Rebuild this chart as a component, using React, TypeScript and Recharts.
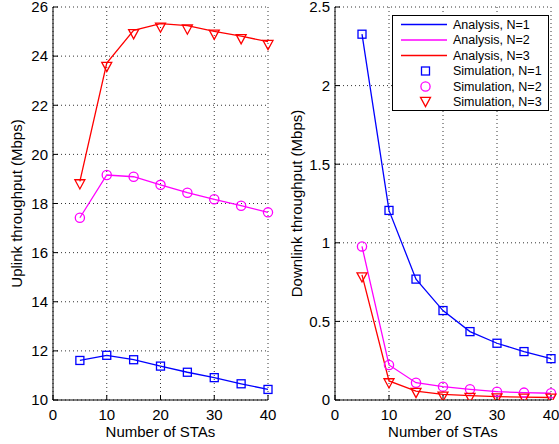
import React from "react";
import { LineChart, Line, XAxis, YAxis, CartesianGrid, Legend, Label } from "recharts";

const stas = [5, 10, 15, 20, 25, 30, 35, 40];
const xTicks = [0, 10, 20, 30, 40];
const upTicks = [10, 12, 14, 16, 18, 20, 22, 24, 26];
const downTicks = [0, 0.5, 1, 1.5, 2, 2.5];

// Uplink (left)
const upAnaN1 = [11.61, 11.82, 11.64, 11.38, 11.13, 10.91, 10.66, 10.43];
const upSimN1 = [11.61, 11.82, 11.64, 11.38, 11.13, 10.91, 10.66, 10.43];
const upAnaN2 = [17.42, 19.16, 19.09, 18.76, 18.44, 18.17, 17.91, 17.64];
const upSimN2 = [17.42, 19.16, 19.09, 18.76, 18.44, 18.17, 17.91, 17.64];
const upAnaN3 = [18.9, 23.72, 25.05, 25.32, 25.24, 25.01, 24.81, 24.59];
const upSimN3 = [18.78, 23.56, 24.89, 25.16, 25.08, 24.87, 24.69, 24.45];

// Downlink (right)
const dnAnaN1 = [2.327, 1.206, 0.769, 0.569, 0.435, 0.361, 0.308, 0.263];
const dnSimN1 = [2.327, 1.206, 0.769, 0.569, 0.435, 0.361, 0.308, 0.263];
const dnAnaN2 = [0.977, 0.223, 0.11, 0.085, 0.068, 0.053, 0.047, 0.043];
const dnSimN2 = [0.977, 0.223, 0.11, 0.085, 0.068, 0.053, 0.047, 0.043];
const dnAnaN3 = [0.796, 0.121, 0.057, 0.036, 0.028, 0.022, 0.018, 0.016];
const dnSimN3 = [0.78, 0.106, 0.045, 0.021, 0.013, 0.01, 0.008, 0.008];

const legendLabels = [
  "Analysis, N=1",
  "Analysis, N=2",
  "Analysis, N=3",
  "Simulation, N=1",
  "Simulation, N=2",
  "Simulation, N=3",
];

const BLUE = "#0000ff";
const MAGENTA = "#ff00ff";
const RED = "#ff0000";
const FONT = "'Liberation Sans', Arial, Helvetica, sans-serif";

const rows = stas.map((s, i) => ({
  x: s,
  upA1: upAnaN1[i], upS1: upSimN1[i],
  upA2: upAnaN2[i], upS2: upSimN2[i],
  upA3: upAnaN3[i], upS3: upSimN3[i],
  dnA1: dnAnaN1[i], dnS1: dnSimN1[i],
  dnA2: dnAnaN2[i], dnS2: dnSimN2[i],
  dnA3: dnAnaN3[i], dnS3: dnSimN3[i],
}));

const SquareMark = ({ cx, cy, color }: any) => (
  <rect x={cx - 4} y={cy - 4} width={8} height={8} fill="none" stroke={color} strokeWidth={1.3} />
);
const CircleMark = ({ cx, cy, color }: any) => (
  <circle cx={cx} cy={cy} r={4.6} fill="none" stroke={color} strokeWidth={1.3} />
);
const TriMark = ({ cx, cy, color }: any) => (
  <polygon
    points={`${cx - 5},${cy - 4.6} ${cx + 5},${cy - 4.6} ${cx},${cy + 4.6}`}
    fill="none"
    stroke={color}
    strokeWidth={1.3}
  />
);

const dotFn = (Shape: any, color: string) => (p: any) => {
  if (p.cx == null || p.cy == null) return <g key={p.index} />;
  return <Shape key={p.index} cx={p.cx} cy={p.cy} color={color} />;
};

const YTitle = (text: string) => (p: any) => {
  const vb = p.viewBox || {};
  const cy = vb.y + vb.height / 2;
  const cx = 16;
  return (
    <text
      x={cx}
      y={cy}
      transform={`rotate(-90 ${cx} ${cy})`}
      textAnchor="middle"
      dominantBaseline="central"
      fontSize={15}
      fontFamily={FONT}
      fill="#000"
    >
      {text}
    </text>
  );
};

const XTitle = (text: string) => (p: any) => {
  const vb = p.viewBox || {};
  const cx = vb.x + vb.width / 2;
  return (
    <text x={cx} y={437} textAnchor="middle" fontSize={15} fontFamily={FONT} fill="#000">
      {text}
    </text>
  );
};

const LegendBox = () => {
  const colors = [BLUE, MAGENTA, RED];
  const shapes = [SquareMark, CircleMark, TriMark];
  return (
    <svg width={157} height={96} style={{ display: "block" }}>
      <rect x={0.5} y={0.5} width={156} height={95} fill="#fff" stroke="#000" strokeWidth={1} />
      {legendLabels.map((lab, i) => {
        const y = 9.5 + i * 15.5;
        const c = colors[i % 3];
        const S = shapes[i % 3];
        return (
          <g key={lab}>
            {i < 3 ? (
              <line x1={9} x2={55} y1={y} y2={y} stroke={c} strokeWidth={1.4} />
            ) : (
              <S cx={33.5} cy={y} color={c} />
            )}
            <text x={61} y={y} dominantBaseline="central" fontSize={12.5} fontFamily={FONT} fill="#000">
              {lab}
            </text>
          </g>
        );
      })}
    </svg>
  );
};

const axisCommon = {
  stroke: "#000",
  tickSize: -5,
  tick: { fill: "#000", fontSize: 15, fontFamily: FONT },
  tickLine: { stroke: "#000" },
  axisLine: { stroke: "#000" },
};

function Panel({
  prefix,
  yDomain,
  yTicks,
  yTitle,
  marginLeft,
  marginRight,
  width,
  withLegend,
}: any) {
  return (
    <LineChart
      width={width}
      height={444}
      data={rows}
      margin={{ top: 7, right: marginRight, left: marginLeft, bottom: 0 }}
    >
      <CartesianGrid stroke="#000" strokeDasharray="1 3" strokeWidth={0.8} />
      <XAxis
        dataKey="x"
        type="number"
        domain={[0, 40]}
        ticks={xTicks}
        height={44}
        tickMargin={14}
        interval={0}
        {...axisCommon}
      >
        <Label content={XTitle("Number of STAs")} />
      </XAxis>
      <XAxis
        xAxisId="top"
        orientation="top"
        type="number"
        domain={[0, 40]}
        ticks={xTicks}
        height={0}
        tick={false}
        tickSize={-5}
        stroke="#000"
        tickLine={{ stroke: "#000" }}
        axisLine={{ stroke: "#000" }}
      />
      <YAxis
        type="number"
        domain={yDomain}
        ticks={yTicks}
        width={45}
        tickMargin={10}
        interval={0}
        allowDataOverflow
        {...axisCommon}
      >
        <Label content={YTitle(yTitle)} />
      </YAxis>
      <YAxis
        yAxisId="right"
        orientation="right"
        type="number"
        domain={yDomain}
        ticks={yTicks}
        width={0}
        tick={false}
        tickSize={-5}
        stroke="#000"
        tickLine={{ stroke: "#000" }}
        axisLine={{ stroke: "#000" }}
      />
      <Line dataKey={`${prefix}A1`} stroke={BLUE} strokeWidth={1.3} dot={false} isAnimationActive={false} />
      <Line dataKey={`${prefix}A2`} stroke={MAGENTA} strokeWidth={1.3} dot={false} isAnimationActive={false} />
      <Line dataKey={`${prefix}A3`} stroke={RED} strokeWidth={1.3} dot={false} isAnimationActive={false} />
      <Line dataKey={`${prefix}S1`} stroke="none" dot={dotFn(SquareMark, BLUE)} isAnimationActive={false} />
      <Line dataKey={`${prefix}S2`} stroke="none" dot={dotFn(CircleMark, MAGENTA)} isAnimationActive={false} />
      <Line dataKey={`${prefix}S3`} stroke="none" dot={dotFn(TriMark, RED)} isAnimationActive={false} />
      {withLegend && (
        <Legend
          layout="horizontal"
          align="center"
          verticalAlign="middle"
          content={() => <LegendBox />}
          wrapperStyle={{ left: 112, top: 15, width: 157, height: 96 }}
        />
      )}
    </LineChart>
  );
}

export default function App() {
  return (
    <div style={{ position: "absolute", left: 0, top: 0, width: 559, height: 444, background: "#fff" }}>
      <div style={{ position: "absolute", left: 0, top: 0 }}>
        <Panel
          prefix="up"
          yDomain={[10, 26]}
          yTicks={upTicks}
          yTitle="Uplink throughput (Mbps)"
          marginLeft={8}
          marginRight={12}
          width={280}
          withLegend={false}
        />
      </div>
      <div style={{ position: "absolute", left: 280, top: 0 }}>
        <Panel
          prefix="dn"
          yDomain={[0, 2.5]}
          yTicks={downTicks}
          yTitle="Downlink throughput (Mbps)"
          marginLeft={10}
          marginRight={8}
          width={279}
          withLegend={true}
        />
      </div>
    </div>
  );
}
